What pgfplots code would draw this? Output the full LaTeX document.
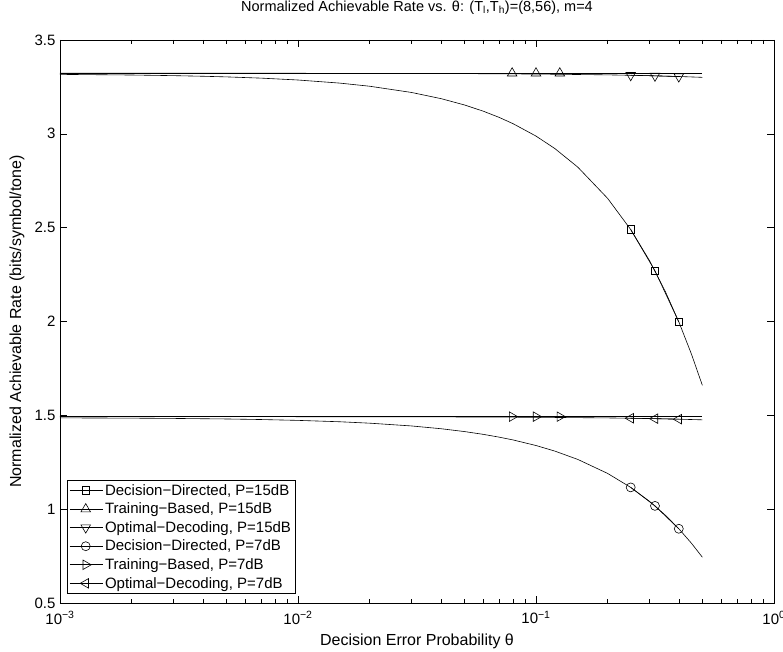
\documentclass[border=0pt]{standalone}
\usepackage{fontspec}
\setmainfont{Liberation Sans}
\usepackage{pgfplots}
\pgfplotsset{compat=1.18}
\begin{document}
\begin{tikzpicture}
\begin{axis}[
  name=ax,
  scale only axis,
  width=714pt, height=563pt,
  xmode=log,
  xmin=0.001, xmax=1, ymin=0.5, ymax=3.5,
  xtick={0.001,0.01,0.1,1},
  xticklabels={10\textsuperscript{−3},10\textsuperscript{−2},10\textsuperscript{−1},10\textsuperscript{0}},
  ytick={0.5,1,1.5,2,2.5,3,3.5},
  yticklabels={0.5,1,1.5,2,2.5,3,3.5},
  minor xtick={0.002,0.003,0.004,0.005,0.006,0.007,0.008,0.009,0.02,0.03,0.04,0.05,0.06,0.07,0.08,0.09,0.2,0.3,0.4,0.5,0.6,0.7,0.8,0.9},
  major tick length=7pt, minor tick length=4pt,
  tick style={black, line width=0.6pt},
  axis line style={line width=0.9pt},
  tick label style={font=\fontsize{15}{17}\selectfont},
  xticklabel style={yshift=-5pt},
  yticklabel style={xshift=-1pt},
  label style={font=\fontsize{16}{18}\selectfont},
  title style={font=\fontsize{14.5}{16}\selectfont, at={(axis description cs:0.5,1.0405)}, anchor=base},
  title={Normalized Achievable Rate vs. θ: (T\textsubscript{l},T\textsubscript{h})=(8,56), m=4},
  xlabel={Decision Error Probability θ},
  xlabel style={at={(axis description cs:0.5,-0.0746)}, anchor=base},
  ylabel={Normalized Achievable Rate (bits/symbol/tone)},
  ylabel style={at={(axis description cs:-0.0546,0.5)}, anchor=base, rotate=0},
  legend style={at={(axis description cs:0.0098,0.016)}, anchor=south west,
    font=\fontsize{15}{18}\selectfont, draw=black, line width=0.9pt,
    inner sep=2pt, row sep=2.2pt, legend cell align=left},
  legend image code/.code={\path (0pt,0pt) -- (33pt,0pt); \draw[mark repeat=2,mark phase=2] plot coordinates {(3pt,0pt) (16pt,0pt) (29pt,0pt)};},
  every axis plot/.append style={line width=0.6pt, black},
  clip=true,
]
% ---- Decision-Directed P=15dB full curve
\addplot[forget plot, no marks] coordinates {
(0.001,3.3167)(0.002,3.3134)(0.003,3.3100)(0.004,3.3067)(0.005,3.3034)(0.007,3.2968)
(0.01,3.2868)(0.015,3.2702)(0.02,3.2536)(0.03,3.2204)(0.04,3.1872)(0.05,3.154)
(0.06,3.1208)(0.07,3.0876)(0.08,3.0544)(0.1,2.988)(0.12,2.9216)(0.15,2.822)
(0.2,2.656)(0.25,2.49)(0.3,2.324)(0.35,2.158)(0.4,1.992)(0.45,1.826)(0.5,1.66)};
% ---- Training-Based P=15dB full curve
\addplot[forget plot, no marks] coordinates {(0.001,3.323)(0.01,3.323)(0.1,3.323)(0.5,3.323)};
% ---- Optimal-Decoding P=15dB full curve
\addplot[forget plot, no marks] coordinates {
(0.001,3.323)(0.01,3.3226)(0.05,3.3208)(0.1,3.3186)(0.2,3.3142)(0.3,3.3098)(0.4,3.3054)(0.5,3.301)};
% ---- Decision-Directed P=7dB full curve
\addplot[forget plot, no marks] coordinates {
(0.001,1.4865)(0.002,1.4850)(0.003,1.4835)(0.005,1.4806)(0.007,1.4776)(0.01,1.4731)
(0.015,1.4657)(0.02,1.4582)(0.03,1.4434)(0.04,1.4285)(0.05,1.4136)(0.06,1.3987)
(0.07,1.3838)(0.08,1.3690)(0.1,1.3392)(0.12,1.3094)(0.15,1.2648)(0.2,1.1904)
(0.25,1.1160)(0.3,1.0416)(0.35,0.9672)(0.4,0.8928)(0.45,0.8184)(0.5,0.7440)};
% ---- Training-Based P=7dB full curve
\addplot[forget plot, no marks] coordinates {(0.001,1.493)(0.01,1.493)(0.1,1.493)(0.5,1.493)};
% ---- Optimal-Decoding P=7dB full curve
\addplot[forget plot, no marks] coordinates {
(0.001,1.493)(0.01,1.4927)(0.05,1.4913)(0.1,1.4896)(0.2,1.4862)(0.3,1.4828)(0.4,1.4794)(0.5,1.476)};
% ---- marker series (legend)
\addplot[mark=square, mark size=3.8pt] coordinates {(0.25,2.49)(0.3162,2.270)(0.3981,1.998)};
\addlegendentry{Decision−Directed, P=15dB}
\addplot[mark=triangle, mark size=5.5pt] coordinates {(0.0794,3.323)(0.1,3.323)(0.1259,3.323)};
\addlegendentry{Training−Based, P=15dB}
\addplot[mark=triangle, mark size=5.5pt, mark options={rotate=180}] coordinates {(0.25,3.312)(0.3162,3.309)(0.3981,3.305)};
\addlegendentry{Optimal−Decoding, P=15dB}
\addplot[mark=o, mark size=4.5pt] coordinates {(0.25,1.116)(0.3162,1.0175)(0.3981,0.8956)};
\addlegendentry{Decision−Directed, P=7dB}
\addplot[mark=triangle, mark size=5.5pt, mark options={rotate=-90}] coordinates {(0.0794,1.493)(0.1,1.493)(0.1259,1.493)};
\addlegendentry{Training−Based, P=7dB}
\addplot[mark=triangle, mark size=5.5pt, mark options={rotate=90}] coordinates {(0.25,1.4845)(0.3162,1.4823)(0.3981,1.4795)};
\addlegendentry{Optimal−Decoding, P=7dB}
\end{axis}
\pgfresetboundingbox
\path[use as bounding box] (ax.south west) ++(-60pt,-49pt) rectangle ++(783pt,652pt);
\end{tikzpicture}
\end{document}
